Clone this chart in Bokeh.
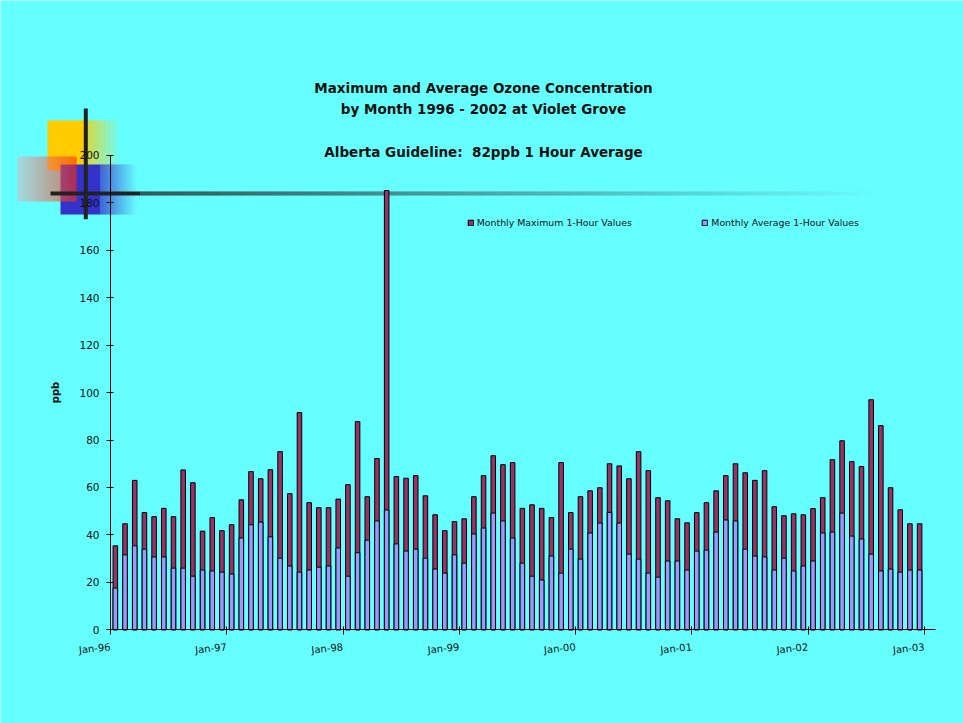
from bokeh.plotting import figure
from bokeh.models import (Range1d, LinearAxis, FixedTicker, ColumnDataSource,
                          Legend, LegendItem)
from bokeh.embed import file_html
from bokeh.resources import INLINE
from bokeh.core.properties import value

# ---------------- data ----------------
tick_labels = ["Jan-96", "Jan-97", "Jan-98", "Jan-99", "Jan-00", "Jan-01", "Jan-02", "Jan-03"]
y_ticks = [0, 20, 40, 60, 80, 100, 120, 140, 160, 180, 200]

max_vals = [35.4, 44.7, 63.0, 49.4, 47.7, 51.2, 47.7, 67.4, 62.0, 41.6, 47.3, 41.8,
            44.3, 54.8, 66.7, 63.7, 67.5, 75.1, 57.4, 91.6, 53.6, 51.5, 51.5, 55.1,
            61.2, 87.8, 56.1, 72.2, 185.2, 64.6, 63.9, 65.0, 56.5, 48.5, 41.8, 45.6,
            46.8, 56.1, 65.0, 73.4, 69.6, 70.5, 51.2, 52.7, 51.2, 47.3, 70.5, 49.4,
            56.1, 58.6, 59.9, 70.0, 69.1, 63.7, 75.1, 67.1, 55.7, 54.4, 46.8, 45.1,
            49.4, 53.6, 58.6, 65.0, 70.0, 66.2, 63.0, 67.1, 51.9, 48.1, 48.9, 48.5,
            51.1, 55.7, 71.7, 79.7, 70.9, 68.8, 97.0, 86.1, 59.9, 50.6, 44.7, 44.7]

avg_vals = [17.6, 31.6, 35.4, 34.0, 30.7, 30.7, 26.0, 26.0, 22.6, 25.2, 24.8, 24.3,
            23.5, 38.7, 44.3, 45.4, 39.2, 30.2, 26.9, 24.3, 25.2, 26.4, 26.9, 34.5,
            22.6, 32.5, 37.8, 45.9, 50.5, 36.2, 33.2, 34.0, 30.2, 25.6, 23.9, 31.6,
            28.1, 40.4, 42.9, 49.2, 45.9, 38.7, 28.1, 22.6, 21.0, 31.1, 23.9, 34.0,
            29.8, 40.8, 45.0, 49.5, 45.0, 31.9, 29.8, 23.9, 22.2, 29.0, 29.0, 25.2,
            33.2, 33.6, 41.2, 46.3, 45.9, 34.0, 31.1, 30.7, 25.2, 30.2, 24.8, 26.9,
            29.0, 40.8, 41.2, 49.2, 39.5, 38.3, 31.9, 24.8, 25.6, 24.3, 25.2, 25.2]

series_names = ["Monthly Maximum 1-Hour Values", "Monthly Average 1-Hour Values"]
title_lines = ["Maximum and Average Ozone Concentration",
               "by Month 1996 - 2002 at Violet Grove",
               "Alberta Guideline:\u00a0 82ppb 1 Hour Average"]

# ---------------- layout ----------------
BG = "#66FFFF"
W, H = 963, 723
OFF = 0                   # page offset of the canvas
X0, DX = 110.0, 9.69      # page px of month 0, px per month
Y0, DY = 629.3, 2.372     # page px of 0 ppb, px per ppb


def xr(px):
    return (px - X0) / DX


def yr(py):
    return (Y0 - py) / DY


p = figure(width=W, height=H, output_backend="svg", toolbar_location=None,
           x_range=Range1d(xr(OFF), xr(OFF + W)), y_range=Range1d(yr(OFF + H), yr(OFF)),
           x_axis_location=None, y_axis_location=None, min_border=0)
p.background_fill_color = BG
p.border_fill_color = BG
p.outline_line_color = None
p.xgrid.visible = False
p.ygrid.visible = False
p.extra_x_ranges = {"px": Range1d(OFF, OFF + W)}
p.extra_y_ranges = {"py": Range1d(OFF + H, OFF)}


def hex2rgb(h):
    h = h.lstrip("#")
    return tuple(int(h[i:i + 2], 16) for i in (0, 2, 4))


def mix(c0, c1, t):
    return "#%02x%02x%02x" % tuple(int(round(a + (b - a) * t)) for a, b in zip(c0, c1))


def gradient_box(x0, x1, top, bottom, solid_to, c0, c1, alpha=1.0):
    """horizontal gradient built from 1px strips (page pixel coords)"""
    c0 = hex2rgb(c0) if isinstance(c0, str) else c0
    c1 = hex2rgb(c1) if isinstance(c1, str) else c1
    L, R, C = [], [], []
    if solid_to > x0:
        L.append(x0); R.append(solid_to); C.append(mix(c0, c0, 0))
    x = max(x0, solid_to)
    n = int(round(x1 - x))
    for i in range(n):
        t = (i + 0.5) / n
        L.append(x + i); R.append(x + i + 1); C.append(mix(c0, c1, t))
    src = ColumnDataSource(dict(left=L, right=R, color=C))
    p.quad(left="left", right="right", top=top, bottom=bottom, source=src,
           fill_color="color", fill_alpha=alpha, line_color=None,
           x_range_name="px", y_range_name="py")


bg = hex2rgb(BG)
# template decoration (top-left)
gradient_box(47, 120, 120, 170, 86, "#FFCC00", bg)
gradient_box(60, 137, 164, 214, 100, "#3333CC", bg)
gradient_box(17, 76, 156, 201, 17, (205, 195, 205), (255, 40, 0), alpha=0.72)
gradient_box(50, 880, 191, 195, 140, "#222222", bg)
p.quad(left=83.3, right=87.3, top=108, bottom=218.7, fill_color="#222222",
       line_color=None, x_range_name="px", y_range_name="py")

# ---------------- bars ----------------
src = ColumnDataSource(dict(x=[i + 0.5 for i in range(len(max_vals))],
                            mx=max_vals, av=avg_vals))
r_max = p.vbar(x="x", top="mx", bottom=0, width=0.47, source=src,
               fill_color="#993366", line_color="black", line_width=1)
r_avg = p.vbar(x="x", top="av", bottom=0, width=0.47, source=src,
               fill_color="#9999FF", line_color="black", line_width=1)

# ---------------- axes ----------------
TXT = "#111111"
yaxis = LinearAxis(fixed_location=0, bounds=(0, 200), ticker=FixedTicker(ticks=y_ticks))
yaxis.major_tick_in = 3
yaxis.major_tick_out = 4
yaxis.minor_tick_in = 0
yaxis.minor_tick_out = 0
yaxis.axis_line_color = "black"
yaxis.major_tick_line_color = "black"
yaxis.major_label_text_font = "DejaVu Sans"
yaxis.major_label_text_font_size = "10.5px"
yaxis.major_label_text_color = TXT
yaxis.major_label_standoff = 7
yaxis.axis_label = "ppb"
yaxis.axis_label_text_font = "DejaVu Sans"
yaxis.axis_label_text_font_style = "bold"
yaxis.axis_label_text_font_size = "10px"
yaxis.axis_label_text_color = TXT
yaxis.axis_label_standoff = 15
p.add_layout(yaxis, "left")

month_ticks = [12 * i for i in range(len(tick_labels))]
xaxis = LinearAxis(fixed_location=0, bounds=(0, xr(935)), ticker=FixedTicker(ticks=month_ticks),
                   major_label_overrides={t: lab for t, lab in zip(month_ticks, tick_labels)})
xaxis.major_tick_in = 3
xaxis.major_tick_out = 5
xaxis.minor_tick_in = 0
xaxis.minor_tick_out = 0
xaxis.axis_line_color = "black"
xaxis.major_tick_line_color = "black"
xaxis.major_label_text_font = "DejaVu Sans"
xaxis.major_label_text_font_size = "10px"
xaxis.major_label_text_color = TXT
xaxis.major_label_orientation = 0.1
xaxis.major_label_standoff = 12
p.add_layout(xaxis, "below")

# ---------------- title ----------------
for line, yb in zip(title_lines, [87.7, 108.3, 151.0]):
    p.text(x=[483], y=[yb], text=[line], text_font=value("DejaVu Sans"),
           text_font_style="bold", text_font_size=value("13.5px"), text_color=TXT,
           text_align="center", text_baseline="alphabetic",
           x_range_name="px", y_range_name="py")

# ---------------- legends ----------------
for r, name, lx in [(r_max, series_names[0], 466.7), (r_avg, series_names[1], 701.3)]:
    leg = Legend(items=[LegendItem(label=name, renderers=[r])],
                 location=(lx - OFF, OFF + H - 228),
                 orientation="horizontal", padding=0, margin=0, spacing=0,
                 glyph_width=7, glyph_height=7, label_standoff=3, label_height=7,
                 label_text_font="DejaVu Sans", label_text_font_size="9.4px",
                 label_text_color=TXT, border_line_color=None,
                 background_fill_alpha=0)
    p.add_layout(leg)

open("out.html", "w").write(file_html(p, INLINE))
